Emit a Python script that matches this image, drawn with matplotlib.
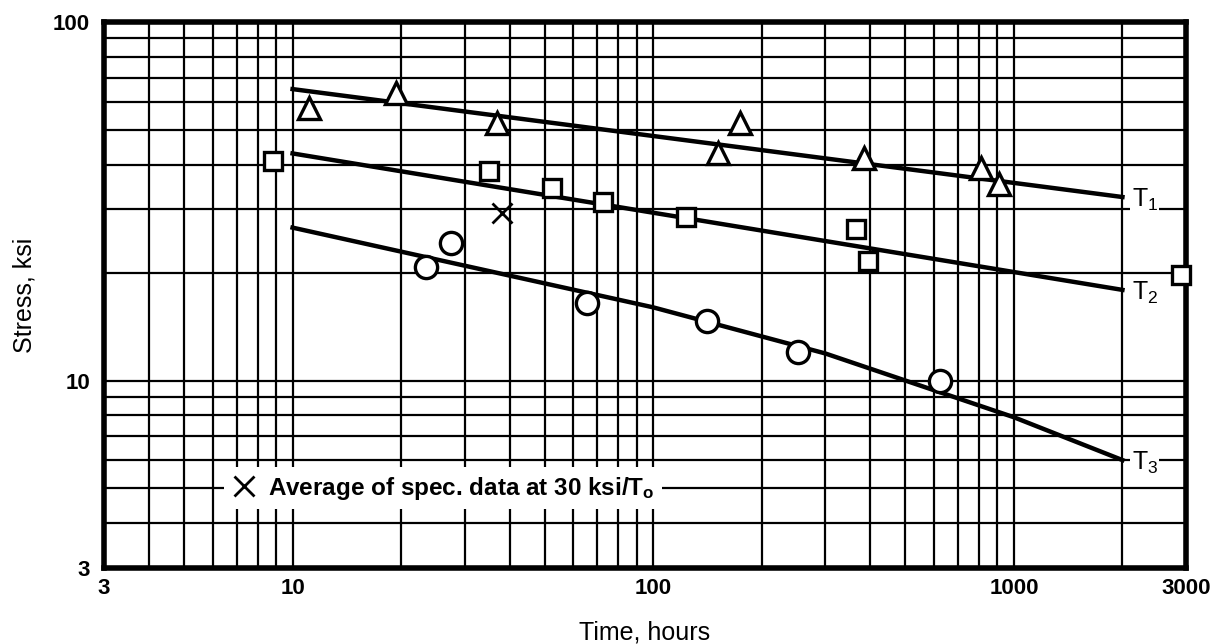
import numpy as np
import matplotlib
matplotlib.use("Agg")
import matplotlib.pyplot as plt
from matplotlib.ticker import FixedLocator, LogLocator, NullFormatter, FixedFormatter

plt.rcParams['font.family'] = ['Liberation Sans', 'DejaVu Sans']
plt.rcParams['mathtext.default'] = 'regular'

# fitted curves (time, stress)
t1_time = [10, 2000]
t1_stress = [65, 32.5]
t2_time = [10, 2000]
t2_stress = [43, 17.9]
t3_time = [10, 100, 300, 600, 1000, 2000]
t3_stress = [26.7, 16.0, 11.9, 9.4, 7.9, 6.0]

# test points
tri_time = [11.1, 19.3, 36.8, 174, 151, 384, 809, 908]
tri_stress = [57.5, 63.4, 52.3, 52.3, 43.2, 41.7, 39.2, 35.3]
sq_time = [8.8, 35, 52.4, 72.5, 123, 365, 394, 2900]
sq_stress = [41.0, 38.4, 34.4, 31.5, 28.6, 26.5, 21.5, 19.7]
circ_time = [27.5, 23.5, 65.5, 141, 252, 623]
circ_stress = [24.2, 20.8, 16.5, 14.7, 12.0, 9.97]
avg_time = [38]
avg_stress = [29.3]

curve_labels = ['T$_1$', 'T$_2$', 'T$_3$']
xticks = [3, 10, 100, 1000, 3000]
yticks = [3, 10, 100]

fig = plt.figure(figsize=(12.22, 6.44), dpi=100)
ax = fig.add_axes([0.0851, 0.118, 0.8854, 0.8478])
ax.set_xscale('log')
ax.set_yscale('log')
ax.set_xlim(3, 3000)
ax.set_ylim(3, 100)

for axis, ticks in ((ax.xaxis, xticks), (ax.yaxis, yticks)):
    axis.set_major_locator(FixedLocator(ticks))
    axis.set_major_formatter(FixedFormatter([str(v) for v in ticks]))
    axis.set_minor_locator(LogLocator(base=10, subs=range(2, 10), numticks=20))
    axis.set_minor_formatter(NullFormatter())
ax.tick_params(which='both', length=0, labelsize=16)
ax.tick_params(axis='x', pad=7)
ax.tick_params(axis='y', pad=10)
for lab in ax.get_xticklabels() + ax.get_yticklabels():
    lab.set_fontweight('bold')
ax.grid(which='both', color='black', lw=1.6, zorder=0)
for sp in ax.spines.values():
    sp.set_linewidth(4)

ax.plot(t1_time, t1_stress, color='black', lw=3.2, zorder=3)
ax.plot(t2_time, t2_stress, color='black', lw=3.2, zorder=3)
ax.plot(t3_time, t3_stress, color='black', lw=3.2, zorder=3)

ax.plot(tri_time, tri_stress, ls='none', marker='^', ms=16, mfc='white', mec='black', mew=2.4, zorder=4, clip_on=False)
ax.plot(sq_time, sq_stress, ls='none', marker='s', ms=13, mfc='white', mec='black', mew=2.4, zorder=4, clip_on=False)
ax.plot(circ_time, circ_stress, ls='none', marker='o', ms=16, mfc='white', mec='black', mew=2.4, zorder=4, clip_on=False)
ax.plot(avg_time, avg_stress, ls='none', marker='x', ms=14, mec='black', mew=2, zorder=4,
        label='Average of spec. data at 30 ksi/T$_o$')

ends = [(t1_time[-1], t1_stress[-1]), (t2_time[-1], t2_stress[-1]), (t3_time[-1], t3_stress[-1])]
for (t, s), lab in zip(ends, curve_labels):
    ax.text(t * 1.06, s * 0.98, lab, fontsize=18, va='center', ha='left', zorder=5,
            bbox=dict(facecolor='white', edgecolor='none', pad=1))

leg = ax.legend(loc='center left', bbox_to_anchor=(0.111, 0.1465), fontsize=17.5,
                frameon=True, fancybox=False, framealpha=1, facecolor='white', edgecolor='none',
                handlelength=1.0, handletextpad=0.5, borderpad=0.3, borderaxespad=0)
for t in leg.get_texts():
    t.set_fontweight('bold')

ax.set_xlabel('Time, hours', fontsize=18, labelpad=16)
ax.set_ylabel('Stress, ksi', fontsize=18, labelpad=12)

fig.savefig('out.png', dpi=100)
